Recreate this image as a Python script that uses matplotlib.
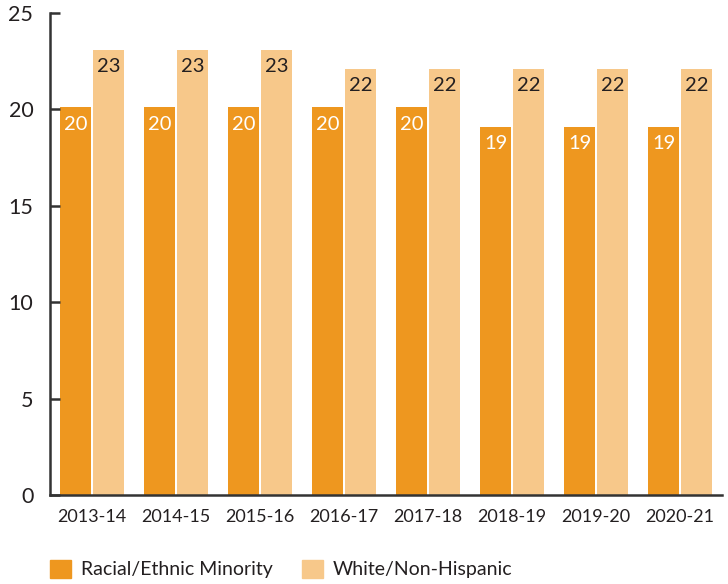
import matplotlib.pyplot as plt
import numpy as np
from matplotlib.patches import Patch

years = ['2013-14', '2014-15', '2015-16', '2016-17', '2017-18', '2018-19', '2019-20', '2020-21']
minority = [20.1, 20.1, 20.1, 20.1, 20.1, 19.1, 19.1, 19.1]
white = [23.1, 23.1, 23.1, 22.1, 22.1, 22.1, 22.1, 22.1]

c_min = '#EE971F'
c_wht = '#F7C88A'
txt = '#231F20'

plt.rcParams['font.family'] = ['Lato', 'DejaVu Sans']

fig = plt.figure(figsize=(7.28, 5.84), dpi=100)
ax = fig.add_axes([50/728, 89/584, 672/728, 482/584])

x = np.arange(len(years))
w = 0.37
off = 0.196
b1 = ax.bar(x - off, minority, w, color=c_min)
b2 = ax.bar(x + off, white, w, color=c_wht)

for rect, v in zip(b1, minority):
    ax.text(rect.get_x() + rect.get_width()/2, v - 0.42, f"{round(v)}",
            ha='center', va='top', color='white', fontsize=14.5)
for rect, v in zip(b2, white):
    ax.text(rect.get_x() + rect.get_width()/2, v - 0.42, f"{round(v)}",
            ha='center', va='top', color=txt, fontsize=14.5)

ax.set_xlim(-0.5, 7.5)
ax.set_ylim(0, 25)
ax.set_yticks([0, 5, 10, 15, 20, 25])
ax.set_xticks(x)
ax.set_xticklabels(years)
ax.spines['top'].set_visible(False)
ax.spines['right'].set_visible(False)
for s in ['left', 'bottom']:
    ax.spines[s].set_color('#333333')
    ax.spines[s].set_linewidth(1.8)
ax.tick_params(axis='y', direction='in', length=7, width=1.8, color='#333333',
               labelsize=15.5, labelcolor=txt, pad=12)
ax.tick_params(axis='x', length=0, labelsize=13, labelcolor=txt, pad=10)

handles = [Patch(color=c_min, label='Racial/Ethnic Minority'),
           Patch(color=c_wht, label='White/Non-Hispanic')]
fig.legend(handles=handles, loc='lower left', bbox_to_anchor=(32/728, -12/584), ncol=2,
           frameon=False, fontsize=14, handlelength=1.1, handleheight=1.1,
           handletextpad=0.5, columnspacing=1.5, labelcolor=txt)

fig.savefig('out.png', dpi=100)
